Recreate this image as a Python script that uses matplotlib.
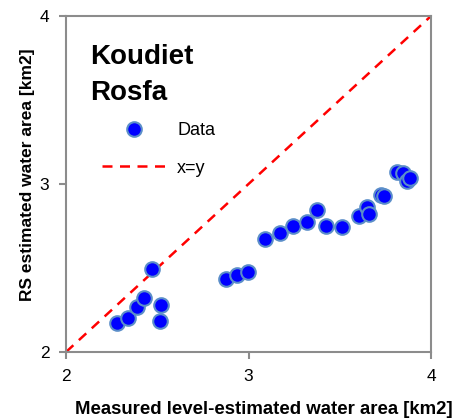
import matplotlib.pyplot as plt

plt.rcParams['font.family'] = ['Liberation Sans', 'DejaVu Sans']

# measured vs RS-estimated water area (km2)
measured = [2.278, 2.338, 2.387, 2.426, 2.470, 2.521, 2.516, 2.874, 2.938, 2.995,
            3.092, 3.172, 3.243, 3.318, 3.377, 3.424, 3.514, 3.605, 3.651, 3.662,
            3.726, 3.744, 3.816, 3.846, 3.871, 3.883]
rs_est = [2.174, 2.202, 2.268, 2.320, 2.494, 2.278, 2.186, 2.433, 2.458, 2.479,
          2.671, 2.707, 2.748, 2.772, 2.847, 2.750, 2.742, 2.808, 2.865, 2.820,
          2.935, 2.929, 3.071, 3.067, 3.020, 3.034]
ticks = [2, 3, 4]

fig = plt.figure(figsize=(4.61, 4.19), dpi=100)
ax = fig.add_axes([66 / 461, 67 / 419, 365 / 461, 336 / 419])

ax.plot(measured, rs_est, 'o', color='#0000ff', markeredgecolor='#5b8ec9',
        markeredgewidth=1.5, markersize=10.5, label='Data', zorder=3)
ax.plot([2, 4], [2, 4], '--', color='#ff0000', linewidth=1.8,
        dashes=(4, 3), label='x=y', zorder=2)

ax.set_xlim(2, 4)
ax.set_ylim(2, 4)
ax.set_xticks(ticks)
ax.set_yticks(ticks)
ax.tick_params(direction='out', length=5, width=1.5, color='#8c8c8c',
               labelsize=12.5, pad=7)
for s in ax.spines.values():
    s.set_color('#8c8c8c')
    s.set_linewidth(1.5)

ax.set_xlabel('Measured level-estimated water area [km2]', fontsize=13.4,
              fontweight='bold')
ax.set_ylabel('RS estimated water area [km2]', fontsize=12.5,
              fontweight='bold')
ax.xaxis.set_label_coords(0.542, -0.145)
ax.yaxis.set_label_coords(-0.085, 0.527)

ax.text(0.065, 0.918, 'Koudiet\nRosfa', transform=ax.transAxes, fontsize=20,
        fontweight='bold', va='top', ha='left', linespacing=1.5)

ax.legend(loc='upper left', bbox_to_anchor=(0.055, 0.732), frameon=False,
          fontsize=13, handlelength=3.5, handletextpad=0.65, labelspacing=1.12)

fig.savefig('out.png', dpi=100)
